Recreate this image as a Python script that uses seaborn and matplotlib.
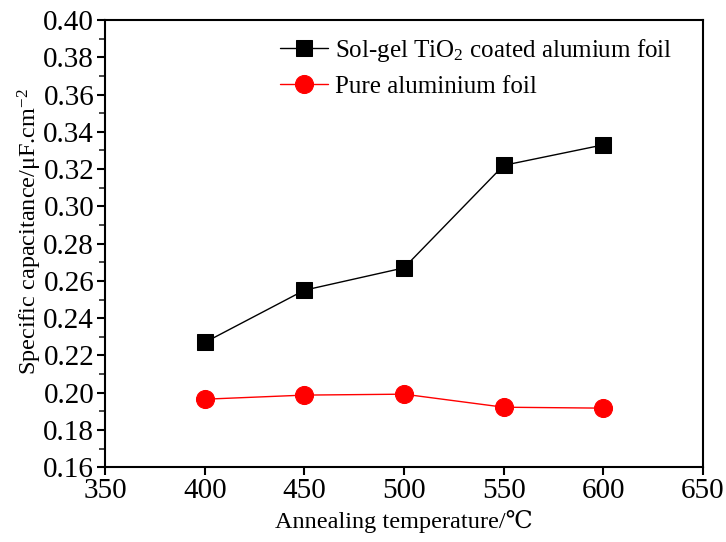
import matplotlib
matplotlib.use("Agg")
import matplotlib.pyplot as plt
import seaborn as sns
import pandas as pd
from matplotlib.ticker import MultipleLocator

# data
temperature = [400, 450, 500, 550, 600]
tio2_coated = [0.227, 0.255, 0.267, 0.322, 0.333]
pure_al = [0.1965, 0.1987, 0.1992, 0.1922, 0.1917]

sns.set_style("ticks")
plt.rcParams['font.family'] = ['Liberation Serif', 'DejaVu Serif']
plt.rcParams['mathtext.fontset'] = 'custom'
plt.rcParams['mathtext.rm'] = 'Liberation Serif'
plt.rcParams['mathtext.it'] = 'Liberation Serif'
plt.rcParams['text.color'] = 'black'
plt.rcParams['axes.labelcolor'] = 'black'

df = pd.DataFrame({'T': temperature, 'coated': tio2_coated, 'pure': pure_al})

fig = plt.figure(figsize=(7.26, 5.42), dpi=100)
ax = fig.add_axes([0.145, 0.138, 0.823, 0.825])

sns.lineplot(data=df, x='T', y='coated', ax=ax, color='black', marker='s',
             markersize=11, markeredgecolor='black', linewidth=1,
             label='Sol-gel TiO$_2$ coated alumium foil')
sns.lineplot(data=df, x='T', y='pure', ax=ax, color='red', marker='o',
             markersize=13, markeredgecolor='red', linewidth=1,
             label='Pure aluminium foil')

ax.set_xlim(350, 650)
ax.set_ylim(0.16, 0.40)
ax.xaxis.set_major_locator(MultipleLocator(50))
ax.yaxis.set_major_locator(MultipleLocator(0.02))
ax.yaxis.set_minor_locator(MultipleLocator(0.01))
ax.xaxis.set_minor_locator(MultipleLocator(25))
ax.yaxis.set_major_formatter(matplotlib.ticker.FormatStrFormatter('%.2f'))
ax.tick_params(axis='both', which='major', direction='out', length=6, width=1.5,
               labelsize=21, colors='black', pad=2)
ax.tick_params(axis='x', which='minor', length=0)
ax.tick_params(axis='y', which='minor', direction='out', length=4, width=1.2)
for s in ax.spines.values():
    s.set_linewidth(1.5)
    s.set_color('black')

ax.set_xlabel('Annealing temperature/℃', fontsize=17.5, labelpad=4)
ax.set_ylabel('Specific capacitance/μF.cm$^{-2}$', fontsize=17.5)
ax.yaxis.set_label_coords(-0.102, 0.526)

ax.legend(loc='upper left', bbox_to_anchor=(0.255, 1.012), frameon=False,
          fontsize=18, handlelength=1.9, handletextpad=0.3, labelspacing=0.45)

fig.savefig('out.png', dpi=100)
